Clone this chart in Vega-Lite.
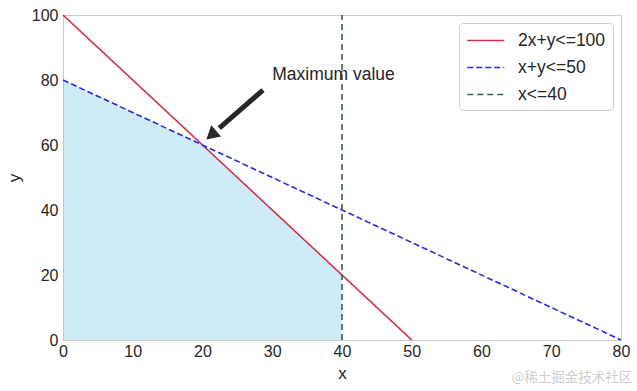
{
  "$schema": "https://vega.github.io/schema/vega-lite/v6.json",
  "width": 558,
  "height": 325,
  "autosize": {"type": "none"},
  "padding": {"left": 63, "top": 15, "right": 16, "bottom": 51},
  "background": "white",
  "config": {
    "font": "Liberation Sans",
    "view": {"stroke": "#cccccc", "strokeWidth": 1},
    "axis": {
      "grid": false, "domain": false, "ticks": false,
      "labelFontSize": 16, "labelColor": "#262626", "labelFont": "Liberation Sans",
      "titleFontSize": 17, "titleColor": "#262626", "titleFont": "Liberation Sans", "titleFontWeight": "normal"
    },
    "legend": {
      "orient": "top-right", "offset": 8, "padding": 7,
      "strokeColor": "#cccccc", "cornerRadius": 4, "fillColor": "white",
      "labelFontSize": 17.5, "labelColor": "#262626", "labelFont": "Liberation Sans",
      "symbolType": "M-1,0H3", "symbolSize": 342, "symbolStrokeWidth": 1.7,
      "labelOffset": 31, "rowPadding": 8
    }
  },
  "datasets": {
    "lines": [
      {"series": "2x+y<=100", "x": 0, "y": 100},
      {"series": "2x+y<=100", "x": 50, "y": 0},
      {"series": "x+y<=50", "x": 0, "y": 80},
      {"series": "x+y<=50", "x": 80, "y": 0},
      {"series": "x<=40", "x": 40, "y": 0},
      {"series": "x<=40", "x": 40, "y": 100}
    ],
    "region": [
      {"x": 0, "y": 80},
      {"x": 20, "y": 60},
      {"x": 40, "y": 20}
    ],
    "shaft": [
      {"x": 28.67, "y": 76.9, "x2": 22.41, "y2": 65.2}
    ],
    "head": [
      {"x": 21.49, "y": 63.48}
    ],
    "note": [
      {"x": 30, "y": 80, "label": "Maximum value"}
    ],
    "mark": [
      {"x": 81.6, "y": -11.7, "label": "@稀土掘金技术社区"}
    ]
  },
  "layer": [
    {
      "data": {"name": "region"},
      "mark": {"type": "area", "color": "#87ceeb", "opacity": 0.4},
      "encoding": {
        "x": {"field": "x", "type": "quantitative", "scale": {"domain": [0, 80], "nice": false},
              "axis": {"values": [0, 10, 20, 30, 40, 50, 60, 70, 80], "labelFlush": false, "labelOverlap": false, "labelPadding": 3, "title": "x", "titlePadding": 6}},
        "y": {"field": "y", "type": "quantitative", "scale": {"domain": [0, 100], "nice": false},
              "axis": {"values": [0, 20, 40, 60, 80, 100], "labelOverlap": false, "labelPadding": 5, "title": "y", "titlePadding": 8}}
      }
    },
    {
      "data": {"name": "lines"},
      "mark": {"type": "line", "strokeWidth": 1.6},
      "encoding": {
        "x": {"field": "x", "type": "quantitative", "title": "x"},
        "y": {"field": "y", "type": "quantitative", "title": "y"},
        "color": {"field": "series", "type": "nominal",
                  "scale": {"domain": ["2x+y<=100", "x+y<=50", "x<=40"], "range": ["#d1334f", "#2b2bd9", "#3b5f4a"]},
                  "legend": {"title": null}},
        "strokeDash": {"field": "series", "type": "nominal",
                  "scale": {"domain": ["2x+y<=100", "x+y<=50", "x<=40"], "range": [[1, 0], [6, 3], [6, 4]]},
                  "legend": {"title": null}}
      }
    },
    {
      "data": {"name": "shaft"},
      "mark": {"type": "rule", "strokeWidth": 5, "color": "#262626", "strokeCap": "butt"},
      "encoding": {
        "x": {"field": "x", "type": "quantitative", "title": "x"},
        "y": {"field": "y", "type": "quantitative", "title": "y"},
        "x2": {"field": "x2"},
        "y2": {"field": "y2"}
      }
    },
    {
      "data": {"name": "head"},
      "mark": {"type": "point", "shape": "triangle", "angle": 228.8, "size": 225, "filled": true, "color": "#262626", "opacity": 1},
      "encoding": {
        "x": {"field": "x", "type": "quantitative", "title": "x"},
        "y": {"field": "y", "type": "quantitative", "title": "y"}
      }
    },
    {
      "data": {"name": "note"},
      "mark": {"type": "text", "align": "left", "baseline": "alphabetic", "fontSize": 17.5, "color": "#262626", "font": "Liberation Sans"},
      "encoding": {
        "x": {"field": "x", "type": "quantitative", "title": "x"},
        "y": {"field": "y", "type": "quantitative", "title": "y"},
        "text": {"field": "label"}
      }
    },
    {
      "data": {"name": "mark"},
      "mark": {"type": "text", "align": "right", "baseline": "middle", "fontSize": 13.5, "color": "#cfcfcf", "font": "Noto Sans CJK SC"},
      "encoding": {
        "x": {"field": "x", "type": "quantitative", "title": "x"},
        "y": {"field": "y", "type": "quantitative", "title": "y"},
        "text": {"field": "label"}
      }
    }
  ]
}
